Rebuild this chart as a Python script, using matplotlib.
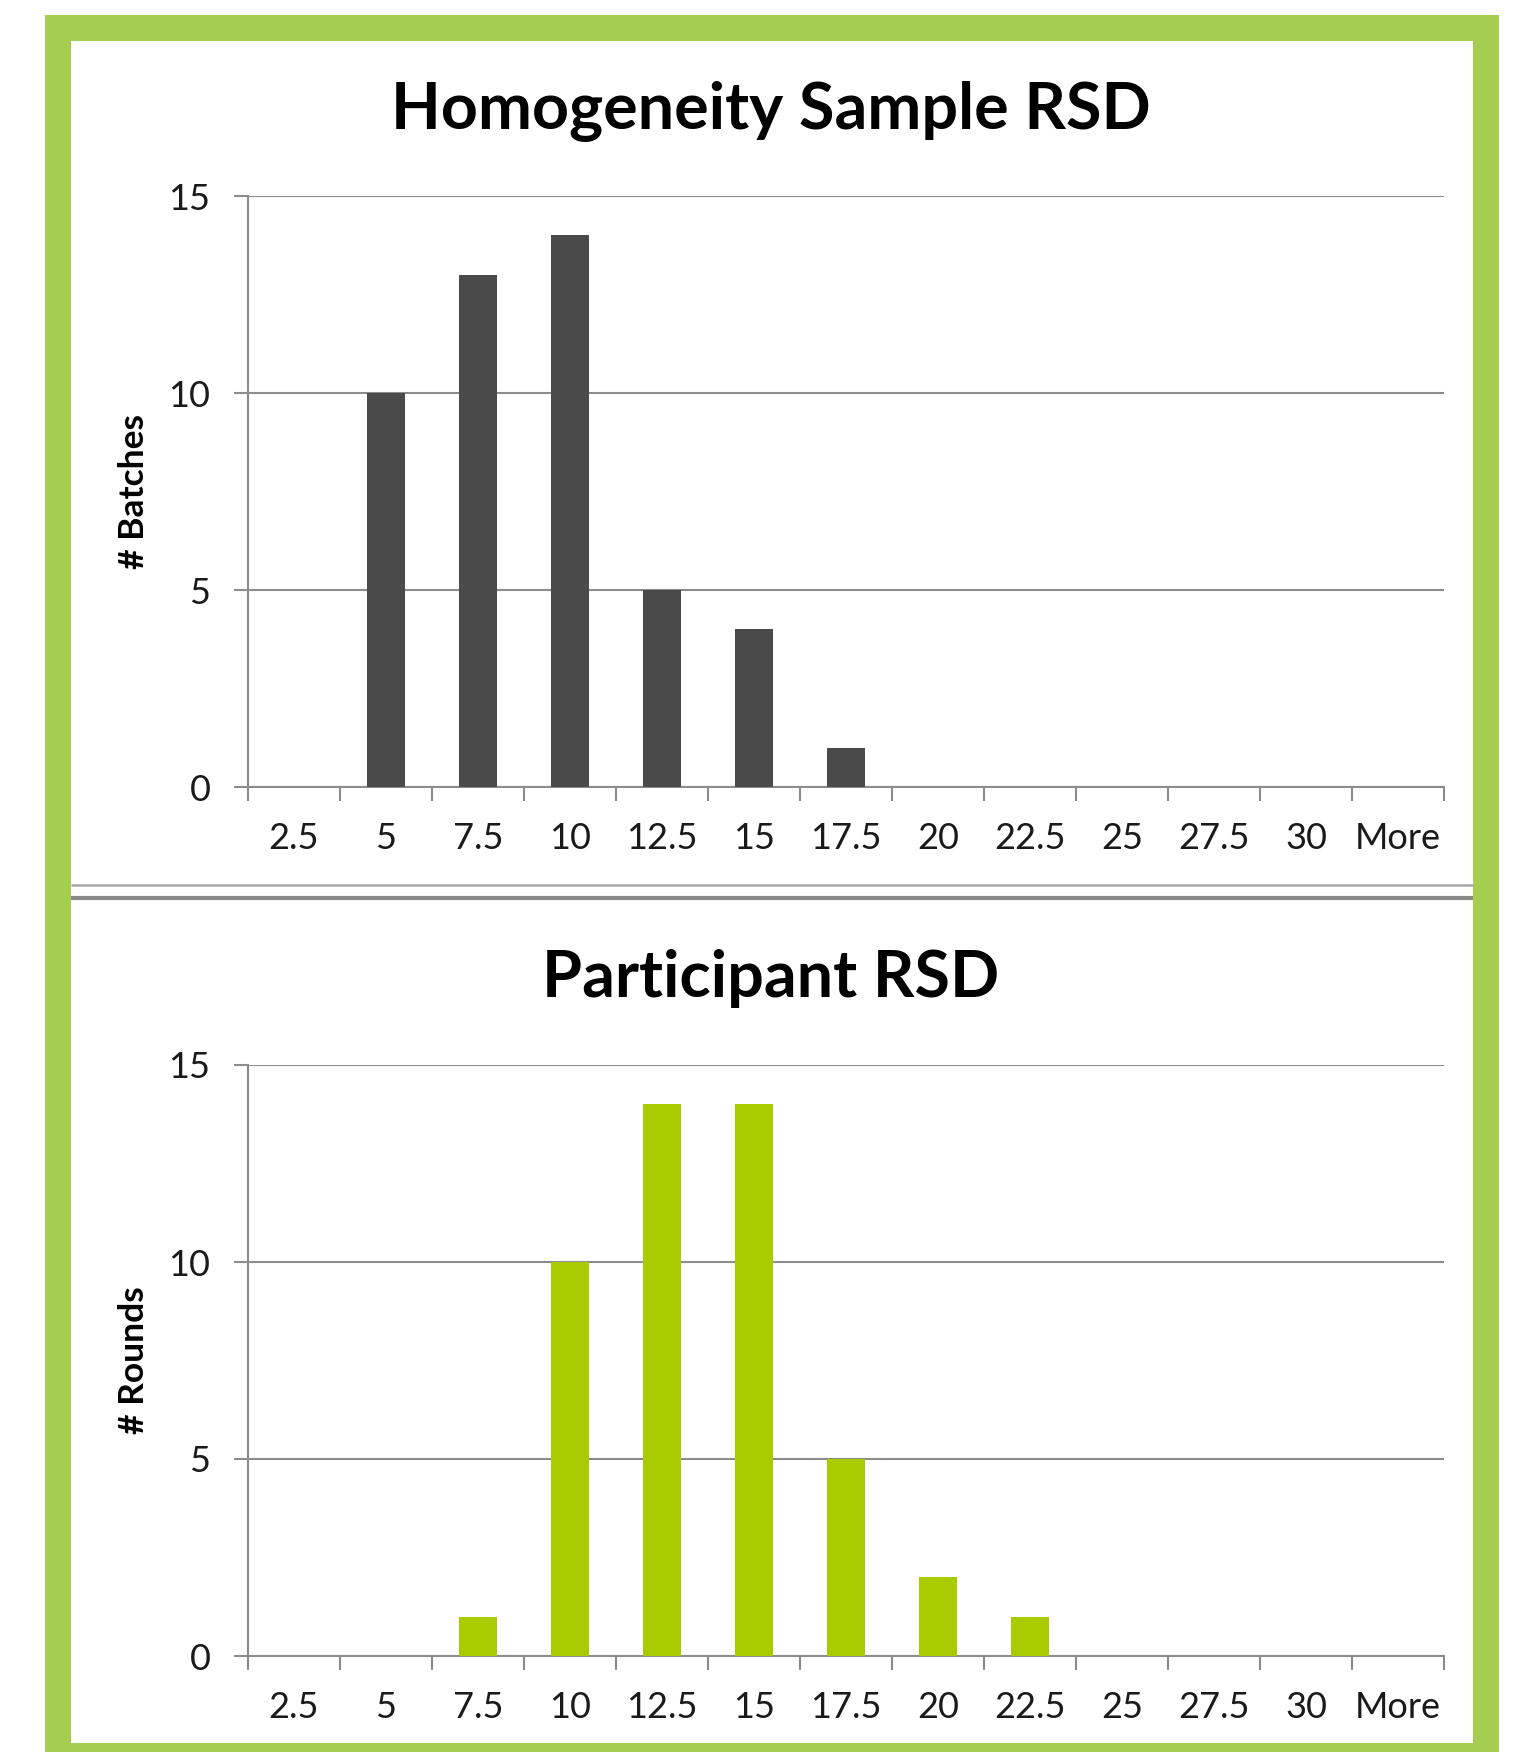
import matplotlib.pyplot as plt
from matplotlib.patches import Rectangle

bins = ['2.5', '5', '7.5', '10', '12.5', '15', '17.5', '20', '22.5', '25', '27.5', '30', 'More']
batches = [0, 10, 13, 14, 5, 4, 1, 0, 0, 0, 0, 0, 0]
rounds = [0, 0, 1, 10, 14, 14, 5, 2, 1, 0, 0, 0, 0]

W, H = 1530, 1752
plt.rcParams['font.family'] = ['Lato', 'DejaVu Sans']

fig = plt.figure(figsize=(W / 100, H / 100), dpi=100)

# green frame and the double rule between the two charts
bg = fig.add_axes([0, 0, 1, 1], zorder=-10)
bg.set_xlim(0, W)
bg.set_ylim(H, 0)
bg.axis('off')
bg.add_patch(Rectangle((45, 15), 1454, 1760, color='#a5cd50', lw=0))
bg.add_patch(Rectangle((71, 41), 1402, 1702, color='white', lw=0))
bg.plot([71, 1473], [885, 885], color='#a8a8a8', lw=1.8, solid_capstyle='butt')
bg.plot([71, 1473], [898, 898], color='#888888', lw=3, solid_capstyle='butt')


def panel(rect, values, color, title, ylabel, title_y):
    ax = fig.add_axes(rect)
    ax.set_facecolor('none')
    x = list(range(len(bins)))
    ax.bar(x, values, width=0.42, color=color, zorder=3)
    ax.set_xlim(-0.5, len(bins) - 0.5)
    ax.set_ylim(0, 15)
    ax.set_yticks([0, 5, 10, 15])
    ax.yaxis.grid(True, color='#8c8c8c', lw=1.5)
    ax.set_axisbelow(True)
    ax.set_xticks(x)
    ax.set_xticklabels(bins)
    ax.set_xticks([i - 0.5 for i in range(len(bins) + 1)], minor=True)
    ax.tick_params(axis='x', which='major', length=0, pad=25, labelsize=26, labelcolor='#1a1a1a')
    ax.tick_params(axis='x', which='minor', length=10, width=1.5, color='#8c8c8c')
    ax.tick_params(axis='y', length=10, width=1.5, color='#8c8c8c', pad=17, labelsize=26, labelcolor='#1a1a1a')
    for s in ['top', 'right']:
        ax.spines[s].set_visible(False)
    for s in ['left', 'bottom']:
        ax.spines[s].set_color('#8c8c8c')
        ax.spines[s].set_linewidth(1.5)
    fig.text(771 / W, 1 - title_y / H, title, ha='center', va='center',
             fontsize=46.5, fontweight='bold', color='black')
    mid = rect[1] + rect[3] / 2
    fig.text(134 / W, mid, ylabel, ha='center', va='center', rotation=90,
             fontsize=25.5, fontweight='bold', color='black')
    return ax


panel([248 / W, 1 - 787 / H, 1196 / W, 591 / H], batches, '#4a4a4a',
      'Homogeneity Sample RSD', '# Batches', 111)
panel([248 / W, 1 - 1656 / H, 1196 / W, 591 / H], rounds, '#a8cc00',
      'Participant RSD', '# Rounds', 979)

fig.savefig('out.png', dpi=100)
